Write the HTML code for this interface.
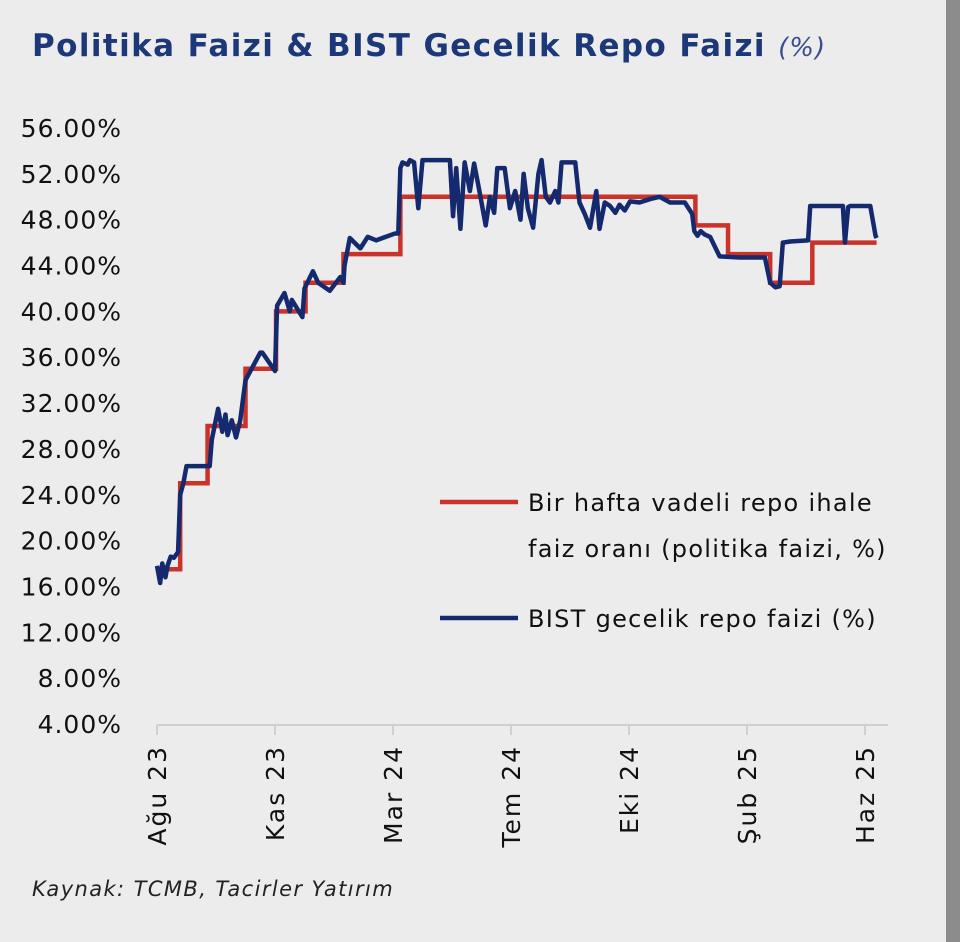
<!DOCTYPE html>
<html><head><meta charset="utf-8"><style>
body{margin:0;width:960px;height:942px;background:#ececec;overflow:hidden;font-family:"DejaVu Sans",sans-serif;position:relative}
.strip{position:absolute;left:946px;top:0;width:14px;height:942px;background:#8c8c8c}
.title{position:absolute;left:32px;top:28px;font-size:31px;font-weight:bold;color:#1d3878;white-space:nowrap;letter-spacing:1.4px}
.title i{font-weight:normal;font-size:26px;color:#3a4f8c;letter-spacing:1px}
.src{position:absolute;left:32px;top:877px;font-size:21px;font-style:italic;color:#222;letter-spacing:1.4px;white-space:nowrap}
</style></head><body>
<div class="strip"></div>
<div class="title">Politika Faizi &amp; BIST Gecelik Repo Faizi <i>(%)</i></div>
<svg id="c" width="960" height="942" style="position:absolute;left:0;top:0"></svg>
<div class="src">Kaynak: TCMB, Tacirler Yatırım</div>
<script>
const yTicks=[4,8,12,16,20,24,28,32,36,40,44,48,52,56];
const xTickDays=[0,112,224,336,448,560,672];
const xTickLabels=["Ağu 23","Kas 23","Mar 24","Tem 24","Eki 24","Şub 25","Haz 25"];
const policyDays=[0,22,48,84,113,141,177,231,511,542,582,622,683];
const policyVals=[17.5,25,30,35,40,42.5,45,50,47.5,45,42.5,46,46];
const bistPoints=[[0,17.8],[3,16.3],[5,18],[8,16.8],[10,17.8],[13,18.6],[16,18.5],[20,19],[22,24],[25,25],[28,26.5],[50,26.5],[52,28.8],[58,31.5],[62,29.5],[65,31],[67,29.2],[71,30.5],[75,29],[79,30.5],[84,34],[98,36.4],[100,36.4],[112,34.8],[114,40.5],[121,41.6],[126,40],[128,41],[138,39.5],[140,42],[148,43.5],[153,42.5],[164,41.8],[174,43],[177,42.5],[178,44],[183,46.4],[193,45.5],[200,46.5],[208,46.2],[226,46.8],[229,46.8],[231,52.5],[233,53],[238,52.8],[240,53.2],[244,53],[248,49],[252,53.2],[278,53.2],[281,48.3],[284,52.5],[288,47.2],[292,53],[297,50.5],[301,52.9],[305,51],[308,49.5],[312,47.5],[316,50],[320,48.6],[323,52.5],[330,52.5],[335,49],[340,50.5],[345,48],[348,52],[352,49],[357,47.3],[362,52],[365,53.2],[369,50],[373,49.5],[378,50.5],[381,49.5],[384,53],[397,53],[401,49.5],[406,48.5],[411,47.3],[417,50.5],[420,47.2],[425,49.5],[430,49.2],[435,48.6],[439,49.3],[444,48.8],[449,49.6],[458,49.5],[468,49.8],[477,50],[487,49.5],[501,49.5],[508,48.5],[510,47],[513,46.6],[516,47],[520,46.7],[525,46.5],[534,44.8],[553,44.7],[577,44.7],[582,42.5],[587,42.1],[591,42.2],[594,46],[601,46.1],[618,46.2],[620,49.2],[651,49.2],[653,46],[656,49.1],[658,49.2],[677,49.2],[682,46.6],[683,46.4]];
const svg=document.getElementById('c');const NS='http://www.w3.org/2000/svg';
const X0=157,PXD=118/112,Y0=128,PXV=596/52;
const xs=d=>X0+d*PXD, ys=v=>Y0+(56-v)*PXV;
const FF='DejaVu Sans, sans-serif';
function mk(t,a){const e=document.createElementNS(NS,t);for(const k in a)e.setAttribute(k,a[k]);svg.appendChild(e);return e;}
const ax=mk('line',{x1:157,y1:725,x2:888,y2:725,stroke:'#cfcfcf','stroke-width':2});


yTicks.forEach(v=>{const t=mk('text',{x:122,y:ys(v)+9,'text-anchor':'end','font-size':25,'letter-spacing':1,fill:'#111','font-family':FF});t.textContent=v.toFixed(2)+'%';

});
xTickDays.forEach((d,i)=>{const x=xs(d);const tk=mk('line',{x1:x,y1:725,x2:x,y2:735,stroke:'#cfcfcf','stroke-width':2});


const t=mk('text',{x:0,y:0,'text-anchor':'end','font-size':25,'letter-spacing':2,fill:'#111',transform:`translate(${x+9},745) rotate(-90)`,'font-family':FF});t.textContent=xTickLabels[i];

});
let p='';policyDays.forEach((d,i)=>{if(i==0)p+=`M${xs(d)},${ys(policyVals[i])}`;else p+=`H${xs(d)}V${ys(policyVals[i])}`;});
const rp=mk('path',{d:p,fill:'none',stroke:'#c9332a','stroke-width':4.5});


const bp=mk('path',{d:'M'+bistPoints.map(q=>xs(q[0])+','+ys(q[1])).join('L'),fill:'none',stroke:'#14296e','stroke-width':4.5,'stroke-linejoin':'round'});


const l1=mk('line',{x1:440,y1:502,x2:518,y2:502,stroke:'#c9332a','stroke-width':4.5});


[['Bir hafta vadeli repo ihale',511],['faiz oranı (politika faizi, %)',557],['BIST gecelik repo faizi (%)',627]].forEach(a=>{const t=mk('text',{x:528,y:a[1],'font-size':24,'letter-spacing':1.3,fill:'#111','font-family':FF});t.textContent=a[0];

});
const l2=mk('line',{x1:440,y1:618,x2:518,y2:618,stroke:'#14296e','stroke-width':4.5});


</script>
</body></html>
